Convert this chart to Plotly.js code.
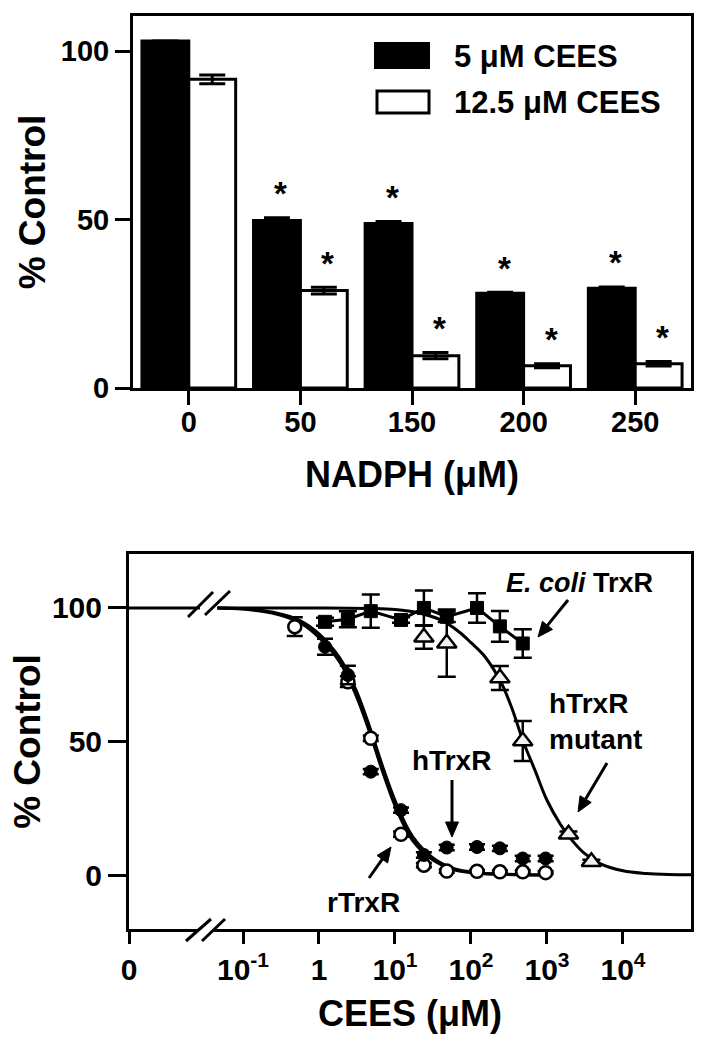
<!DOCTYPE html>
<html>
<head>
<meta charset="utf-8">
<script src="https://cdn.plot.ly/plotly-3.0.1.min.js"></script>
<style>
  html, body { margin: 0; padding: 0; background: #fff; }
  #chart { width: 705px; height: 1050px; }
</style>
</head>
<body>
<div id="chart"></div>
<script>
// ---------- Top panel data: % control vs NADPH ----------
const nadphLabels = ['0', '50', '150', '200', '250'];
const cees5 = [103, 49.7, 48.8, 28.1, 29.6];
const cees5Err = [0, 0.8, 0.6, 0.3, 0.4];
const cees125 = [91.6, 28.9, 9.6, 6.6, 7.2];
const cees125Err = [1.3, 1.0, 0.9, 0.6, 0.7];
const sig5 = [false, true, true, true, true];
const sig125 = [false, true, true, true, true];
const legendNames = ['5 μM CEES', '12.5 μM CEES'];

// ---------- Bottom panel data: % control vs CEES (μM) ----------
const rTrxRX = [0.48, 2.4, 4.8, 12, 24, 48, 120, 240, 480, 960];
const rTrxRY = [93, 72.4, 51.2, 15.3, 3.7, 1.5, 1.4, 1.2, 1.2, 0.9];
const rTrxRErr = [3.5, 2, 1, 1, 0.8, 0.6, 0.5, 0.5, 0.5, 0.5];

const hTrxRX = [1.2, 2.4, 4.8, 12, 24, 48, 120, 240, 480, 960];
const hTrxRY = [85.5, 74.9, 38.7, 24.3, 7.5, 10.3, 10.5, 10, 6.2, 6.2];
const hTrxRErr = [3, 3.5, 1, 1, 1, 1, 1, 1, 1, 1];

const ecoliX = [1.2, 2.4, 4.8, 12, 24, 48, 120, 240, 480];
const ecoliY = [94.8, 95.8, 98.8, 95.5, 100, 96.7, 100, 93.1, 86.7];
const ecoliErr = [1.5, 3, 6.2, 1, 6.5, 2, 5.5, 5.8, 5.3];

const mutX = [24, 48, 240, 480, 1920, 3840];
const mutY = [89, 86.8, 73.8, 50.2, 15.3, 5];
const mutErr = [4.3, 12.6, 4.5, 7.5, 1, 0.7];

// fitted curves
const fitRX = [0.046, 0.1, 0.25, 0.56, 1.0, 1.9, 3.1, 4.7, 7, 10.5, 17, 32, 60, 120, 300, 960];
const fitRY = [100, 99.6, 98, 94.5, 89, 79.5, 67, 53, 38, 24.5, 13, 5.5, 2, 0.7, 0.2, 0];
const fitHX = [0.046, 0.1, 0.25, 0.56, 1.0, 1.9, 3.1, 4.7, 7, 10.5, 17, 32, 60, 120, 300, 960];
const fitHY = [100, 99.7, 98.4, 95.3, 90.3, 81, 69, 55, 40, 26.5, 14.5, 6.3, 2.4, 0.9, 0.3, 0];
const fitMX = [0.046, 1, 5, 10, 20, 40, 70, 100, 150, 250, 350, 480, 700, 1000, 1500, 2000, 3000, 5000, 10000, 20000, 40000, 78500];
const fitMY = [100, 100, 99.8, 99.4, 98.2, 95.5, 91, 87, 82, 72, 62, 50.5, 39, 28, 19, 14, 8.5, 4.3, 1.6, 0.6, 0.2, 0.1];
const controlValue = 100;

const xTickVals = [Math.pow(10, -2.5), 0.1, 1, 10, 100, 1000, 10000];
const xTickText = ['0', '10<sup>-1</sup>', '1', '10<sup>1</sup>', '10<sup>2</sup>', '10<sup>3</sup>', '10<sup>4</sup>'];

// ---------- helpers ----------
const W = 705, H = 1050;
const px = x => x / W;
const py = y => 1 - y / H;
const FONT = 'Liberation Sans, Arial, Helvetica, sans-serif';
const bold = (size, color) => ({ family: FONT, size: size, color: color || 'black', weight: 'bold' });

const traces = [];

// top bars
traces.push({
  type: 'bar', name: legendNames[0], x: nadphLabels, y: cees5,
  xaxis: 'x', yaxis: 'y', textposition: 'none',
  marker: { color: 'black', line: { color: 'black', width: 3 } },
  error_y: { type: 'data', array: cees5Err, visible: true, color: 'black', thickness: 3, width: 13 },
  hoverinfo: 'x+y'
});
traces.push({
  type: 'bar', name: legendNames[1], x: nadphLabels, y: cees125,
  xaxis: 'x', yaxis: 'y', textposition: 'none',
  marker: { color: 'white', line: { color: 'black', width: 3 } },
  error_y: { type: 'data', array: cees125Err, visible: true, color: 'black', thickness: 3, width: 13 },
  hoverinfo: 'x+y'
});

// bottom: control segment at x = 0 (left of the axis break)
const xr = [-2.5, 4.895];
traces.push({
  type: 'scatter', mode: 'lines', xaxis: 'x2', yaxis: 'y2',
  x: [Math.pow(10, xr[0]), Math.pow(10, -1.566)], y: [controlValue, controlValue],
  line: { color: 'black', width: 3 }, hoverinfo: 'skip'
});
// fitted curves
[[fitMX, fitMY], [fitHX, fitHY], [fitRX, fitRY]].forEach(([fx, fy]) => {
  traces.push({
    type: 'scatter', mode: 'lines', xaxis: 'x2', yaxis: 'y2', x: fx, y: fy,
    line: { color: 'black', width: 3, shape: 'spline', smoothing: 1 }, hoverinfo: 'skip'
  });
});
// E. coli TrxR
traces.push({
  type: 'scatter', mode: 'lines+markers', name: 'E. coli TrxR', xaxis: 'x2', yaxis: 'y2',
  x: ecoliX, y: ecoliY,
  line: { color: 'black', width: 3 },
  marker: { symbol: 'square', size: 13, color: 'black', line: { color: 'black', width: 1 } },
  error_y: { type: 'data', array: ecoliErr, color: 'black', thickness: 2.5, width: 9 }
});
// hTrxR mutant
traces.push({
  type: 'scatter', mode: 'markers', name: 'hTrxR mutant', xaxis: 'x2', yaxis: 'y2',
  x: mutX, y: mutY,
  marker: { symbol: 'triangle-up', size: 17, color: '#f2f2f2', line: { color: 'black', width: 2.5 } },
  error_y: { type: 'data', array: mutErr, color: 'black', thickness: 2.5, width: 9 }
});
// rTrxR (open circles)
traces.push({
  type: 'scatter', mode: 'markers', name: 'rTrxR', xaxis: 'x2', yaxis: 'y2',
  x: rTrxRX, y: rTrxRY,
  marker: { symbol: 'circle', size: 13, color: 'white', line: { color: 'black', width: 2.5 } },
  error_y: { type: 'data', array: rTrxRErr, color: 'black', thickness: 2.5, width: 8 }
});
// hTrxR (filled circles)
traces.push({
  type: 'scatter', mode: 'markers', name: 'hTrxR', xaxis: 'x2', yaxis: 'y2',
  x: hTrxRX, y: hTrxRY,
  marker: { symbol: 'circle', size: 13, color: 'black', line: { color: 'black', width: 1 } },
  error_y: { type: 'data', array: hTrxRErr, color: 'black', thickness: 2.5, width: 8 }
});

// ---------- annotations ----------
const annotations = [];
// significance asterisks
const barHalf = 23.5;
nadphLabels.forEach((lab, i) => {
  if (sig5[i]) annotations.push({ x: i, y: cees5[i] + cees5Err[i], xref: 'x', yref: 'y', text: '*',
    showarrow: false, xshift: -barHalf + 4, yshift: 24, yanchor: 'middle', font: bold(33) });
  if (sig125[i]) annotations.push({ x: i, y: cees125[i] + cees125Err[i], xref: 'x', yref: 'y', text: '*',
    showarrow: false, xshift: barHalf + 4, yshift: 24, yanchor: 'middle', font: bold(33) });
});
// custom legend text
annotations.push({ x: px(452), y: py(57), xref: 'paper', yref: 'paper', xanchor: 'left', yanchor: 'middle',
  text: legendNames[0], showarrow: false, font: bold(31) });
annotations.push({ x: px(452), y: py(102), xref: 'paper', yref: 'paper', xanchor: 'left', yanchor: 'middle',
  text: legendNames[1], showarrow: false, font: bold(31) });

// bottom labels
annotations.push({ x: px(579), y: py(583), xref: 'paper', yref: 'paper', text: '<i>E. coli</i> TrxR',
  showarrow: false, xanchor: 'center', yanchor: 'middle', font: bold(27) });
annotations.push({ x: px(547), y: py(721), xref: 'paper', yref: 'paper', text: 'hTrxR<br>mutant',
  showarrow: false, xanchor: 'left', yanchor: 'middle', align: 'left', font: bold(28) });
annotations.push({ x: px(451), y: py(760), xref: 'paper', yref: 'paper', text: 'hTrxR',
  showarrow: false, xanchor: 'center', yanchor: 'middle', font: bold(28) });
annotations.push({ x: px(363), y: py(902), xref: 'paper', yref: 'paper', text: 'rTrxR',
  showarrow: false, xanchor: 'center', yanchor: 'middle', font: bold(28) });

// ---------- shapes ----------
const shapes = [];
// legend swatches
shapes.push({ type: 'rect', xref: 'paper', yref: 'paper', x0: px(375), x1: px(429), y0: py(68), y1: py(43),
  fillcolor: 'black', line: { color: 'black', width: 2 } });
shapes.push({ type: 'rect', xref: 'paper', yref: 'paper', x0: px(377), x1: px(429), y0: py(113), y1: py(91),
  fillcolor: 'white', line: { color: 'black', width: 3 } });
// axis break: white gap on the bottom axis, then the two slashes
shapes.push({ type: 'line', xref: 'paper', yref: 'paper', x0: px(198), x1: px(214), y0: py(929), y1: py(929),
  line: { color: 'white', width: 6 }, layer: 'above' });
[[188, 617, 213, 592], [205, 615, 230, 591], [186, 941, 211, 919], [202, 941, 225, 919]].forEach(s => {
  shapes.push({ type: 'line', xref: 'paper', yref: 'paper', x0: px(s[0]), y0: py(s[1]), x1: px(s[2]), y1: py(s[3]),
    line: { color: 'black', width: 3 }, layer: 'above' });
});
// pointer arrows: [headX, headY, tailX, tailY] in page pixels
[[538, 637, 568, 600], [578, 812, 607, 763], [452, 837, 452, 780], [391, 847, 369, 878]].forEach(a => {
  const [hx, hy, tx, ty] = a;
  const len = Math.hypot(tx - hx, ty - hy);
  const ux = (tx - hx) / len, uy = (ty - hy) / len;
  const L = 15, Wd = 13;
  const bx = hx + ux * L, by = hy + uy * L;
  const nx = -uy, ny = ux;
  shapes.push({ type: 'line', xref: 'paper', yref: 'paper', x0: px(tx), y0: py(ty), x1: px(bx), y1: py(by),
    line: { color: 'black', width: 3 }, layer: 'above' });
  const p1 = [px(hx), py(hy)];
  const p2 = [px(bx + nx * Wd / 2), py(by + ny * Wd / 2)];
  const p3 = [px(bx - nx * Wd / 2), py(by - ny * Wd / 2)];
  shapes.push({ type: 'path', xref: 'paper', yref: 'paper',
    path: `M ${p1[0]} ${p1[1]} L ${p2[0]} ${p2[1]} L ${p3[0]} ${p3[1]} Z`,
    fillcolor: 'black', line: { color: 'black', width: 1 }, layer: 'above' });
});

const axisCommon = {
  showline: true, linewidth: 3, linecolor: 'black', mirror: true,
  ticks: 'outside', tickwidth: 3, tickcolor: 'black',
  showgrid: false, zeroline: false, fixedrange: true
};

const layout = {
  width: W, height: H,
  margin: { l: 0, r: 0, t: 0, b: 0, pad: 0 },
  paper_bgcolor: 'white', plot_bgcolor: 'white',
  showlegend: false,
  barmode: 'group', bargap: 0.16, bargroupgap: 0,
  font: { family: FONT, color: 'black' },
  xaxis: Object.assign({}, axisCommon, {
    domain: [px(133), px(691)], anchor: 'y', type: 'category', range: [-0.5, 4.5],
    ticklen: 14, tickfont: bold(29), ticklabelstandoff: -8,
    title: { text: 'NADPH (μM)', font: bold(36), standoff: 26 }
  }),
  yaxis: Object.assign({}, axisCommon, {
    domain: [py(388), py(16)], anchor: 'x', range: [0, 110.4],
    tickvals: [0, 50, 100], ticklen: 15, tickfont: bold(29),
    title: { text: '% Control', font: bold(37), standoff: 4 }
  }),
  xaxis2: Object.assign({}, axisCommon, {
    domain: [px(129), px(691)], anchor: 'y2', type: 'log', range: xr,
    tickvals: xTickVals, ticktext: xTickText, ticklen: 12, tickfont: bold(30),
    title: { text: 'CEES (μM)', font: bold(36), standoff: 16 }
  }),
  yaxis2: Object.assign({}, axisCommon, {
    domain: [py(929), py(554)], anchor: 'x2', range: [-20.2, 120.2],
    tickvals: [0, 50, 100], ticklen: 18, tickfont: bold(30),
    title: { text: '% Control', font: bold(37), standoff: 0 }
  }),
  annotations: annotations,
  shapes: shapes
};

Plotly.newPlot('chart', traces, layout, { displayModeBar: false, staticPlot: true });
</script>
</body>
</html>
